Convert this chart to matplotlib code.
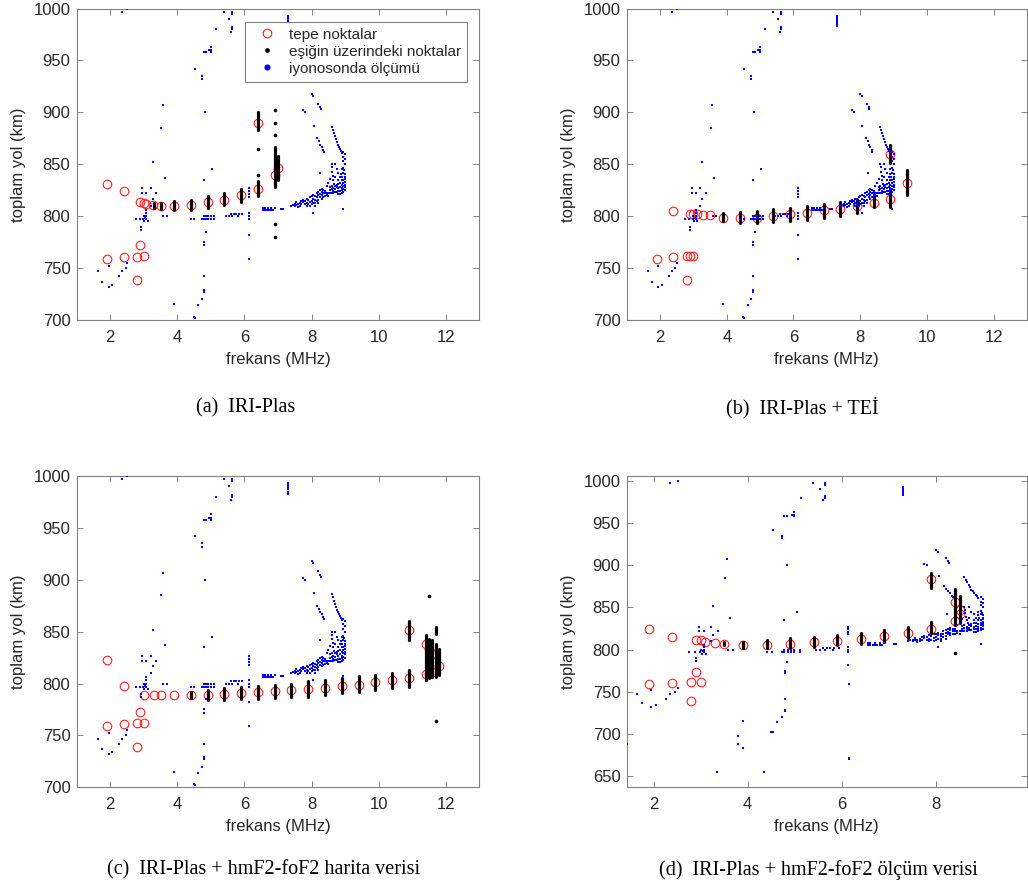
import matplotlib
matplotlib.use("Agg")
import matplotlib.pyplot as plt
from matplotlib.lines import Line2D

plt.rcParams['font.family'] = ['Liberation Sans', 'DejaVu Sans']

# ionosonde measurement (same in every panel), (MHz, km)
iono_pts = [
    (1.64, 747), (1.75, 737), (1.95, 732), (2.05, 734), (1.95, 752), (2.26, 742), (2.36, 747), (2.46, 750), (2.51, 755),
    (1.43, 688), (0.99, 897), (2.36, 997), (2.51, 1000),
    (2.76, 797), (2.88, 797), (2.98, 797), (3.07, 797), (3.07, 800), (3.07, 803), (3.07, 806), (3.02, 795), (3.12, 795),
    (3.0, 800), (3.05, 798), (2.91, 790), (2.91, 787),
    (2.96, 827), (3.21, 827), (2.96, 822), (3.07, 822), (3.37, 822), (3.27, 817), (3.21, 810),
    (3.27, 852), (3.62, 837), (3.52, 885), (3.57, 907), (3.58, 800), (3.68, 800),
    (3.35, 655), (3.79, 698), (3.79, 688), (3.89, 683), (3.89, 715), (4.35, 655), (4.49, 703),
    (4.41, 797), (4.51, 797), (4.72, 797), (4.78, 800), (4.85, 800), (4.92, 800), (4.99, 800), (5.1, 800),
    (4.78, 797), (4.85, 797), (4.92, 797), (4.99, 797), (5.1, 797),
    (4.78, 835), (5.04, 845), (4.84, 785), (4.79, 775), (4.79, 772), (4.79, 742), (4.79, 729), (4.79, 727),
    (4.73, 720), (4.63, 714), (4.53, 702),
    (4.53, 942), (4.73, 935), (4.73, 932), (4.83, 900), (4.78, 958), (4.84, 958), (4.94, 960), (4.99, 963),
    (4.99, 960), (4.99, 958), (5.14, 980), (5.39, 997), (5.54, 990), (5.64, 997), (5.64, 995), (5.64, 982),
    (5.64, 980), (5.59, 977),
    (7.3, 993), (7.3, 991), (7.3, 989), (7.3, 987), (7.3, 985), (7.3, 983),
    (5.44, 800), (5.54, 800), (5.64, 800), (5.69, 802), (5.74, 802), (5.84, 802), (5.94, 802), (5.6, 802), (5.8, 800),
    (6.13, 827), (6.13, 824), (6.13, 821), (6.13, 818), (6.13, 803), (6.13, 800), (6.13, 797), (6.13, 782),
    (6.14, 759), (6.14, 672), (6.14, 670),
    (6.55, 806), (6.6, 806), (6.65, 806), (6.7, 806), (6.75, 806), (6.8, 806), (6.85, 806),
    (6.55, 808), (6.6, 808), (6.7, 808), (6.8, 808), (6.9, 808), (7.1, 807), (7.15, 807),
    (7.4, 810), (7.45, 811), (7.5, 810), (7.5, 812), (7.55, 811), (7.6, 812), (7.65, 813), (7.65, 810), (7.7, 812),
    (7.7, 815), (7.75, 814), (7.75, 816), (7.8, 812), (7.8, 815), (7.85, 813), (7.85, 817), (7.9, 812), (7.9, 816),
    (7.95, 814), (7.95, 818), (8.0, 812), (8.0, 815), (8.0, 819), (8.05, 813), (8.05, 817), (8.05, 820), (8.1, 813),
    (8.1, 816), (8.1, 819), (8.15, 815), (8.15, 818), (8.15, 822), (8.2, 816), (8.2, 820), (8.2, 823), (8.25, 818),
    (8.25, 821), (8.25, 825), (8.3, 820), (8.3, 823), (8.3, 826), (8.35, 822), (8.35, 825), (8.4, 822), (8.4, 824),
    (8.45, 822), (8.5, 822), (8.55, 822), (8.6, 822), (8.65, 822), (8.7, 823), (8.75, 823), (8.8, 824), (8.85, 824),
    (8.9, 825), (8.95, 826), (8.7, 826), (8.75, 828), (8.8, 827), (8.85, 828), (8.9, 830), (8.95, 832), (9.0, 833),
    (9.0, 836), (9.0, 838), (8.95, 835), (8.9, 835), (8.85, 832), (8.8, 831), (8.75, 830), (8.7, 829), (9.0, 830),
    (8.95, 829), (8.9, 827), (9.0, 841), (8.95, 842), (8.9, 845), (8.95, 846), (9.0, 850), (8.95, 853), (9.0, 855),
    (8.95, 857), (9.0, 860), (8.95, 862), (8.6, 850), (8.62, 847), (8.62, 843), (8.64, 839), (8.65, 835), (8.67, 831),
    (8.55, 836), (8.5, 832), (8.45, 829), (8.55, 828), (8.7, 850), (8.75, 845), (8.8, 842), (8.85, 838), (8.8, 835),
    (8.7, 838), (8.24, 842), (8.05, 803), (8.95, 807), (8.06, 887),
    (8.4, 819), (8.45, 820), (8.5, 819), (8.55, 825), (8.6, 826), (8.65, 827), (8.65, 824), (8.6, 829), (8.8, 821),
    (8.85, 821), (8.9, 822), (8.95, 823), (9.0, 825), (9.0, 828), (8.92, 838), (8.88, 841), (8.98, 844), (8.35, 818),
    (8.3, 817), (8.2, 813), (8.1, 810), (7.95, 810), (7.6, 809), (7.55, 814), (7.85, 810),
    (8.6, 886), (8.63, 883), (8.66, 880), (8.69, 877), (8.72, 874), (8.75, 871), (8.78, 869), (8.81, 867), (8.84, 865),
    (8.87, 863), (8.9, 861), (8.17, 875), (8.22, 872), (8.26, 869), (8.3, 867), (8.34, 864), (8.36, 862),
    (8.0, 918), (8.05, 916), (8.2, 908), (8.25, 905), (8.27, 903), (7.75, 902), (7.8, 900),
]
iono_f = [p[0] for p in iono_pts]
iono_v = [p[1] for p in iono_pts]

# (a) IRI-Plas
red_a_f = [1.9, 2.4, 2.9, 3.0, 3.07, 3.28, 3.5, 3.9, 4.4, 4.9, 5.4, 5.9, 6.4, 6.4, 6.9, 7.0, 1.9, 2.4, 2.8, 2.9, 3.0, 2.8]
red_a_v = [831, 824, 813.5, 812.5, 812, 810.5, 810, 810, 811, 813.5, 816, 820, 826, 890, 840, 846,
           758.5, 760.5, 761, 772, 761.5, 738.5]
bar_a_f = [3.3, 3.5, 3.9, 4.4, 4.9, 5.4, 5.9, 6.4, 6.4, 6.9, 7.0]
bar_a_lo = [808, 807, 806, 806, 808, 811, 814, 819, 883, 828, 835]
bar_a_hi = [813, 813, 815, 816, 819, 822, 826, 834, 900, 867, 858]
dot_a_f = [6.4, 6.4, 6.9, 6.9, 6.9, 6.9, 6.9]
dot_a_v = [865, 840, 902, 890, 878, 792, 780]

# (b) IRI-Plas + TEI
red_b_f = [1.9, 2.4, 2.4, 2.8, 2.9, 3.0, 2.8, 2.9, 3.0, 3.1, 3.3, 3.5, 3.9, 4.4, 4.9, 5.4, 5.9, 6.4, 6.9, 7.4,
           7.9, 8.4, 8.9, 8.9, 9.4]
red_b_v = [759, 760.5, 805, 761.5, 761.5, 761.5, 739, 802.5, 802.5, 802, 801, 801, 798.5, 798, 798.5, 800, 802,
           803.5, 805.5, 807, 810, 813, 817, 860, 831.5]
bar_b_f = [3.9, 4.4, 4.9, 5.4, 5.9, 6.4, 6.9, 7.4, 7.9, 8.4, 8.9, 8.9, 9.4]
bar_b_lo = [795, 793, 793, 794, 795, 796, 798, 800, 803, 809, 809, 851, 820]
bar_b_hi = [803, 804, 805, 806.5, 807.5, 810, 812, 814, 817, 821, 825, 869, 844.5]
dot_b_f = []
dot_b_v = []

# (c) IRI-Plas + hmF2-foF2 map data
red_c_f = [1.9, 2.4, 1.9, 2.4, 2.8, 2.9, 3.0, 2.8, 3.0, 3.3, 3.5, 3.9, 4.4, 4.9, 5.4, 5.9, 6.4, 6.9, 7.4, 7.9,
           8.4, 8.9, 9.4, 9.9, 10.4, 10.9, 10.9, 11.4, 11.5, 11.6, 11.4, 11.5, 11.6, 11.8]
red_c_v = [823, 798, 759, 761, 761.5, 773, 762, 739, 789, 788.5, 788.5, 788.5, 788.5, 789, 789.5, 790.5, 791.5,
           792.5, 794, 794.5, 796, 797.5, 798.5, 801, 803, 805, 851.5, 838, 833, 828, 809, 809, 811, 816.5]
bar_c_f = [4.4, 4.9, 5.4, 5.9, 6.4, 6.9, 7.4, 7.9, 8.4, 8.9, 9.4, 9.9, 10.4, 10.9, 10.9, 11.4, 11.5, 11.6, 11.7,
           11.8, 11.7]
bar_c_lo = [786, 784, 784, 785, 785, 786, 787, 787.5, 789, 790.5, 791.5, 794, 795.5, 797, 842, 803, 805, 806, 806,
            808, 848]
bar_c_hi = [792, 794, 795.5, 797, 797.5, 798.5, 800, 802, 803.5, 805, 807, 808.5, 810, 813, 860, 847, 843, 842,
            838, 833, 854]
dot_c_f = [11.5, 11.7]
dot_c_v = [884, 764]

# (d) IRI-Plas + hmF2-foF2 measured data
red_d_f = [1.9, 2.4, 2.9, 3.0, 3.1, 3.3, 3.5, 3.9, 4.4, 4.9, 5.4, 5.9, 6.4, 6.9, 7.4, 7.9, 7.9, 8.4, 8.4, 8.5,
           8.5, 1.9, 2.4, 2.8, 2.9, 3.0, 2.8]
red_d_v = [824.5, 815.5, 811.5, 811, 809.5, 807.5, 806.5, 805, 806, 807, 808.5, 810.5, 812.5, 816, 819.5, 824.5,
           883.5, 857, 834, 847, 842, 759.5, 761, 761.5, 773, 761.5, 739]
bar_d_f = [3.5, 3.9, 4.4, 4.9, 5.4, 5.9, 6.4, 6.9, 7.4, 7.9, 7.9, 8.4, 8.5]
bar_d_lo = [805, 801.5, 801.5, 801.5, 803.5, 805.5, 806.5, 809.5, 813.5, 819.5, 872.5, 829, 831]
bar_d_hi = [809.5, 809.5, 811.5, 813.5, 815.5, 817.5, 820, 823.5, 826.5, 833, 891, 871.5, 863]
dot_d_f = [8.4]
dot_d_v = [796.5]

captions = ['(a)  IRI-Plas', '(b)  IRI-Plas + TE\u0130',
            '(c)  IRI-Plas + hmF2-foF2 harita verisi', '(d)  IRI-Plas + hmF2-foF2 ölçüm verisi']
legend_labels = ['tepe noktalar', 'eşiğin üzerindeki noktalar', 'iyonosonda ölçümü']

W, H = 1028, 890
fig = plt.figure(figsize=(W / 100, H / 100), dpi=100)


def px_axes(l, t, r, b):
    return fig.add_axes([l / W, 1 - b / H, (r - l) / W, (b - t) / H])


def draw(ax, rf, rv, bf, blo, bhi, df, dv, xlim, ylim, xticks, yticks):
    ax.plot(rf, rv, 'o', ls='none', mfc='none', mec='#ff2020', ms=6.2, mew=0.8, zorder=3)
    ax.vlines(bf, blo, bhi, colors='k', linewidth=2.3, capstyle='round', zorder=4)
    if df:
        ax.plot(df, dv, 'o', ls='none', color='k', ms=2.6, mew=0, zorder=4)
    ax.plot(iono_f, iono_v, 's', ls='none', color='blue', ms=2.1, mew=0, zorder=5)
    ax.set_xlim(xlim)
    ax.set_ylim(ylim)
    ax.set_xticks(xticks)
    ax.set_yticks(yticks)
    ax.tick_params(direction='in', top=True, right=True, length=4, width=0.6, color='#707070',
                   labelcolor='#262626', labelsize=12)
    ax.tick_params(axis='x', pad=7)
    ax.tick_params(axis='y', pad=4.5)
    for s in ax.spines.values():
        s.set_color('#808080')
        s.set_linewidth(0.8)
    ax.set_xlabel('frekans (MHz)', fontsize=12, color='#262626', va='top')
    ax.set_ylabel('toplam yol (km)', fontsize=12, color='#262626')


ax_a = px_axes(76.7, 8.5, 479.3, 320)
draw(ax_a, red_a_f, red_a_v, bar_a_f, bar_a_lo, bar_a_hi, dot_a_f, dot_a_v,
     (1, 13), (700, 1000), range(2, 13, 2), range(700, 1001, 50))
ax_b = px_axes(626.7, 8.5, 1027, 320)
draw(ax_b, red_b_f, red_b_v, bar_b_f, bar_b_lo, bar_b_hi, dot_b_f, dot_b_v,
     (1, 13), (700, 1000), range(2, 13, 2), range(700, 1001, 50))
ax_c = px_axes(76.7, 476, 479.3, 787.3)
draw(ax_c, red_c_f, red_c_v, bar_c_f, bar_c_lo, bar_c_hi, dot_c_f, dot_c_v,
     (1, 13), (700, 1000), range(2, 13, 2), range(700, 1001, 50))
ax_d = px_axes(626.7, 475.7, 1027, 787.3)
draw(ax_d, red_d_f, red_d_v, bar_d_f, bar_d_lo, bar_d_hi, dot_d_f, dot_d_v,
     (1.43, 9.93), (637, 1006), range(2, 9, 2), range(650, 1001, 50))

for ax in (ax_a, ax_b, ax_c, ax_d):
    h = ax.get_position().height * H
    ax.xaxis.set_label_coords(0.5, -32 / h)
    ax.yaxis.set_label_coords(-0.126, 0.5)

handles = [Line2D([], [], ls='none', marker='o', mfc='none', mec='#ff2020', ms=6.2, mew=0.8),
           Line2D([], [], ls='none', marker='o', color='k', ms=3.4, mew=0),
           Line2D([], [], ls='none', marker='o', color='blue', ms=4.4, mew=0)]
leg = ax_a.legend(handles, legend_labels, loc='upper right', bbox_to_anchor=(0.970, 0.958),
                  borderaxespad=0, fontsize=11, frameon=True, fancybox=False, framealpha=1,
                  edgecolor='#808080', handlelength=2.1, handletextpad=0.4, borderpad=0.4,
                  labelspacing=0.2)
leg.get_frame().set_linewidth(0.8)
for t in leg.get_texts():
    t.set_color('#262626')

cap_font = dict(family=['Liberation Serif', 'DejaVu Serif'], fontsize=14.5, ha='center', va='center')
fig.text(246 / W, 1 - 408 / H, captions[0], **cap_font)
fig.text(802 / W, 1 - 408 / H, captions[1], **cap_font)
fig.text(264 / W, 1 - 870 / H, captions[2], **cap_font)
fig.text(818 / W, 1 - 870 / H, captions[3], **cap_font)

fig.savefig('out.png', dpi=100)
